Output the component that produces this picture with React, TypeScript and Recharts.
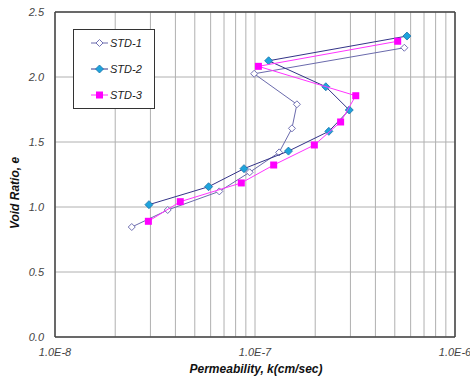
import React from 'react';
import { CartesianGrid, ReferenceLine, Scatter, ScatterChart, XAxis, YAxis } from 'recharts';

// permeability k (cm/sec) and void ratio e in test order
const std1K = [5.58e-7, 9.9e-8, 1.62e-7, 1.53e-7, 1.32e-7, 9.4e-8, 6.63e-8, 3.66e-8, 2.42e-8];
const std1E = [2.225, 2.025, 1.79, 1.605, 1.42, 1.267, 1.12, 0.977, 0.846];

const std2K = [5.75e-7, 1.17e-7, 2.26e-7, 2.96e-7, 2.34e-7, 1.47e-7, 8.81e-8, 5.86e-8, 2.95e-8];
const std2E = [2.315, 2.125, 1.925, 1.746, 1.582, 1.43, 1.295, 1.156, 1.018];

const std3K = [5.17e-7, 1.04e-7, 3.19e-7, 2.68e-7, 1.98e-7, 1.24e-7, 8.54e-8, 4.23e-8, 2.93e-8];
const std3E = [2.275, 2.082, 1.856, 1.654, 1.477, 1.323, 1.185, 1.041, 0.89];

const xTicks = [
  1e-8, 2e-8, 3e-8, 4e-8, 5e-8, 6e-8, 7e-8, 8e-8, 9e-8,
  1e-7, 2e-7, 3e-7, 4e-7, 5e-7, 6e-7, 7e-7, 8e-7, 9e-7, 1e-6,
];
const yTicks = [0, 0.5, 1.0, 1.5, 2.0, 2.5];

const toPoints = (k: number[], e: number[]) => k.map((v, i) => ({ k: v, e: e[i] }));

const FONT = '"Liberation Sans", Arial, sans-serif';

const HollowDiamond = (props: any) => {
  const { cx, cy } = props;
  return <path d={`M${cx},${cy - 3.5}L${cx + 3.5},${cy}L${cx},${cy + 3.5}L${cx - 3.5},${cy}Z`} fill="#fff" stroke="#7272b4" strokeWidth={1} />;
};
const FilledDiamond = (props: any) => {
  const { cx, cy } = props;
  return <path d={`M${cx},${cy - 4}L${cx + 4},${cy}L${cx},${cy + 4}L${cx - 4},${cy}Z`} fill="#1ea4dc" stroke="#1a70a8" strokeWidth={0.8} />;
};
const Square = (props: any) => {
  const { cx, cy } = props;
  return <rect x={cx - 3.5} y={cy - 3.5} width={7} height={7} fill="#ff00ff" />;
};

const SERIES = [
  { name: 'STD-1', data: toPoints(std1K, std1E), line: '#6a6aac', Shape: HollowDiamond },
  { name: 'STD-2', data: toPoints(std2K, std2E), line: '#333388', Shape: FilledDiamond },
  { name: 'STD-3', data: toPoints(std3K, std3E), line: '#ff33ff', Shape: Square },
];

const isDecade = (v: number) => {
  const l = Math.log10(v);
  return Math.abs(l - Math.round(l)) < 1e-9;
};

const LegendBox = () => (
  <svg width={80} height={78} style={{ display: 'block', border: '1px solid #333', background: '#fff' }}>
    {SERIES.map((s, i) => {
      const y = 13 + i * 26;
      const Shape = s.Shape;
      return (
        <g key={s.name}>
          <line x1={17} x2={34} y1={y} y2={y} stroke={s.line} strokeWidth={1} />
          <Shape cx={25.5} cy={y} />
          <text x={36} y={y + 4} fontSize={11} fontStyle="italic" fontFamily={FONT} fill="#222">{s.name}</text>
        </g>
      );
    })}
  </svg>
);

export default function App() {
  return (
    <div style={{ position: 'absolute', left: 0, top: 0, width: 470, height: 379, background: '#fff' }}>
      <ScatterChart width={470} height={379} margin={{ top: 12, right: 15, bottom: 12, left: 10 }}>
        <CartesianGrid stroke="#b0b0b0" strokeWidth={1} />
        <XAxis
          dataKey="k"
          type="number"
          scale="log"
          domain={[1e-8, 1e-6]}
          allowDataOverflow
          ticks={xTicks}
          interval={0}
          tickFormatter={(v: number) => (isDecade(v) ? v.toExponential(1).toUpperCase() : '')}
          tickLine={false}
          tickMargin={5}
          axisLine={{ stroke: '#444', strokeWidth: 1.5 }}
          tick={{ fontSize: 11, fontStyle: 'italic', fill: '#444', fontFamily: FONT }}
          height={30}
          label={{
            content: () => (
              <text x={256} y={373} textAnchor="middle" fontSize={12} fontWeight="bold" fontStyle="italic" fontFamily={FONT} fill="#111">
                Permeability, k(cm/sec)
              </text>
            ),
          }}
        />
        <YAxis
          dataKey="e"
          type="number"
          domain={[0, 2.5]}
          ticks={yTicks}
          interval={0}
          tickFormatter={(v: number) => v.toFixed(1)}
          tickLine={false}
          tickMargin={5}
          width={45}
          axisLine={{ stroke: '#444', strokeWidth: 1.5 }}
          tick={{ fontSize: 11, fontStyle: 'italic', fill: '#444', fontFamily: FONT }}
          label={{
            content: () => (
              <text x={19} y={193} transform="rotate(-90 19 193)" textAnchor="middle" fontSize={12} fontWeight="bold" fontStyle="italic" fontFamily={FONT} fill="#111">
                Void Ratio, e
              </text>
            ),
          }}
        />
        <ReferenceLine y={2.5} stroke="#444" strokeWidth={1.5} />
        <ReferenceLine x={1e-6} stroke="#444" strokeWidth={1.5} />
        {SERIES.map((s) => (
          <Scatter
            key={s.name}
            name={s.name}
            data={s.data}
            line={{ stroke: s.line, strokeWidth: 1 }}
            lineType="joint"
            shape={s.Shape}
            isAnimationActive={false}
          />
        ))}
      </ScatterChart>
      <div style={{ position: 'absolute', left: 73, top: 29 }}>
        <LegendBox />
      </div>
    </div>
  );
}
